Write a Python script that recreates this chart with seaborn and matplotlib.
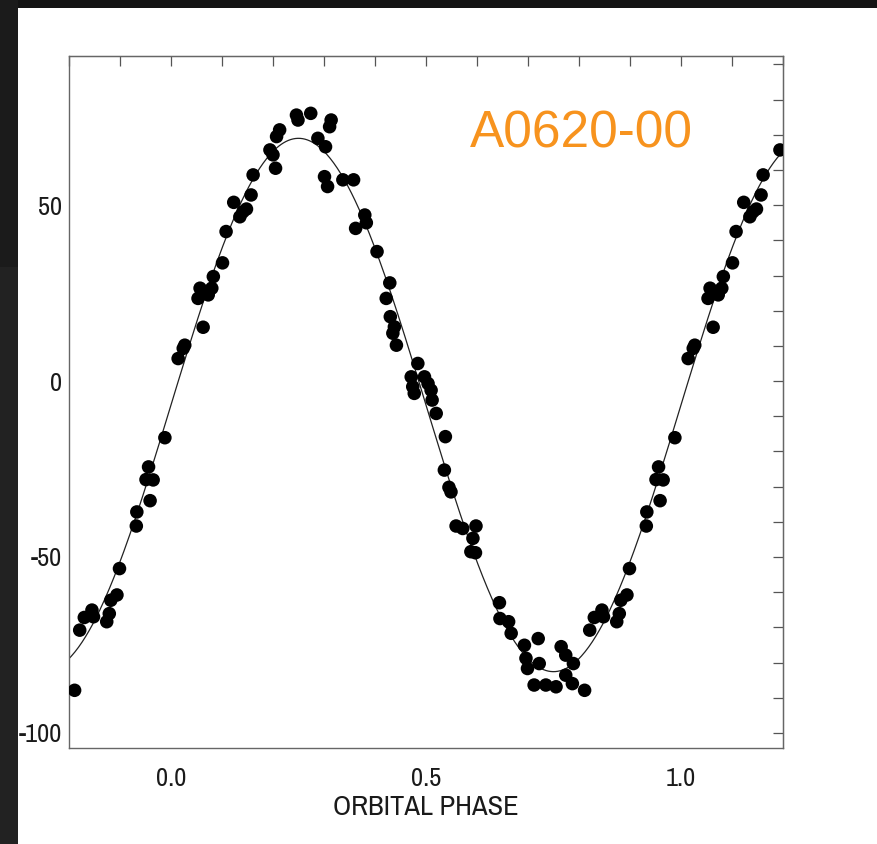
import numpy as np
import pandas as pd
import matplotlib
matplotlib.use("Agg")
import matplotlib.pyplot as plt
import seaborn as sns
from matplotlib.ticker import MultipleLocator
from matplotlib.patches import Rectangle
from matplotlib import font_manager

# ---------------- data ----------------
phase = [0.014, 0.024, 0.027, 0.053, 0.057, 0.063, 0.073, 0.080, 0.083, 0.101,
         0.108, 0.123, 0.135, 0.141, 0.148, 0.157, 0.161, 0.194, 0.200,
         0.205, 0.207, 0.213, 0.246, 0.249, 0.274, 0.288, 0.301, 0.303, 0.307,
         0.311, 0.314, 0.337, 0.358, 0.362, 0.380, 0.383, 0.404, 0.422, 0.429,
         0.430, 0.435, 0.438, 0.442, 0.471, 0.474, 0.477, 0.484, 0.497, 0.504,
         0.510, 0.512, 0.520, 0.536, 0.538, 0.545, 0.549, 0.559, 0.572, 0.588,
         0.592, 0.597, 0.598, 0.644, 0.645, 0.662, 0.667, 0.693, 0.696, 0.699,
         0.712, 0.720, 0.722, 0.735, 0.755, 0.765, 0.774, 0.774, 0.787, 0.789,
         0.811, 0.821, 0.830, 0.845, 0.848, 0.874, 0.879, 0.882, 0.894, 0.899,
         0.932, 0.933, 0.959, 0.951, 0.965, 0.956, 0.988]
velocity = [6.4, 9.3, 10.2, 23.5, 26.4, 15.3, 24.5, 26.4, 29.7, 33.6,
            42.5, 50.8, 46.7, 48.1, 48.9, 52.9, 58.6, 65.7, 64.3,
            60.5, 69.5, 71.4, 75.6, 74.2, 76.1, 69.0, 58.1, 66.6, 55.3,
            72.3, 74.2, 57.2, 57.2, 43.4, 47.2, 45.0, 36.8, 23.5, 27.9,
            18.3, 13.6, 15.4, 10.2, 1.2, -1.6, -3.5, 5.0, 1.2, -0.7,
            -2.6, -5.4, -9.2, -25.3, -15.8, -30.2, -31.5, -41.2, -41.9, -48.5,
            -44.7, -48.8, -41.2, -63.0, -67.5, -68.4, -71.7, -75.1, -78.8, -81.7,
            -86.4, -73.2, -80.3, -86.4, -86.9, -75.5, -77.9, -83.6, -86.0, -80.3,
            -87.9, -70.8, -67.2, -65.1, -67.0, -68.4, -66.1, -62.3, -60.8, -53.3,
            -41.2, -37.2, -34.0, -28.0, -28.1, -24.4, -16.1]

# fitted sine curve parameters
K_AMPLITUDE = 75.8
GAMMA = -6.8

x_ticks = [0.0, 0.5, 1.0]
x_ticklabels = ["0.0", "0.5", "1.0"]
y_ticks = [-100, -50, 0, 50]
y_ticklabels = ["-100", "-50", "0", "50"]
title_text = "A0620-00"
x_label = "ORBITAL PHASE"

# ---------------- build tables ----------------
df = pd.DataFrame({"phase": phase, "velocity": velocity})
ext = pd.concat([
    df,
    df[df.phase >= 0.8].assign(phase=lambda d: d.phase - 1.0),
    df[df.phase < 0.2].assign(phase=lambda d: d.phase + 1.0),
], ignore_index=True)

grid = np.linspace(-0.2, 1.2, 600)
curve = pd.DataFrame({"phase": grid,
                      "velocity": GAMMA + K_AMPLITUDE * np.sin(2 * np.pi * grid)})

# ---------------- style / fonts ----------------
sns.set_style("white")
names = {f.name for f in font_manager.fontManager.ttflist}
narrow_family, narrow_stretch = "DejaVu Sans", "condensed"
for nm in ["Nimbus Sans Narrow", "Liberation Sans Narrow", "Arial Narrow",
           "Archivo Narrow", "Roboto Condensed"]:
    if nm in names:
        narrow_family, narrow_stretch = nm, "normal"
        break
plt.rcParams["font.family"] = [narrow_family, "DejaVu Sans"]
plt.rcParams["font.stretch"] = narrow_stretch

W, H = 878, 844
fig = plt.figure(figsize=(W / 100, H / 100), dpi=100)
fig.patch.set_facecolor("white")

L, R, T, B = 69, 783, 56, 748
ax = fig.add_axes([L / W, 1 - B / H, (R - L) / W, (B - T) / H])
ax.set_facecolor("white")

sns.lineplot(data=curve, x="phase", y="velocity", ax=ax, color="#222222",
             linewidth=0.9, zorder=2)
sns.scatterplot(data=ext, x="phase", y="velocity", ax=ax, color="black",
                s=95, edgecolor="none", linewidth=0, zorder=3)

ax.set_xlim(-0.2, 1.2)
ax.set_ylim(-104.3, 92.4)

frame_col = "#666666"
for sp in ax.spines.values():
    sp.set_color(frame_col)
    sp.set_linewidth(1.0)
    sp.set_visible(True)

ax.set_xticks(x_ticks)
ax.set_xticklabels(x_ticklabels)
ax.set_yticks(y_ticks)
ax.set_yticklabels(y_ticklabels)
ax.xaxis.set_minor_locator(MultipleLocator(0.1))
ax.yaxis.set_minor_locator(MultipleLocator(10))
ax.tick_params(which="both", direction="in", color="#555555", width=0.9,
               labelsize=19, labelcolor="#1a1a1a", top=False, right=False)
ax.tick_params(which="major", length=11)
ax.tick_params(which="minor", length=5)
ax.tick_params(axis="x", which="major", pad=14)
ax.tick_params(axis="y", which="major", pad=5)

# top and right ticks (no labels)
top = ax.secondary_xaxis("top")
top.set_xticks(np.arange(-0.2, 1.21, 0.1))
top.tick_params(direction="in", length=7, color="#555555", width=0.9,
                labeltop=False)
top.spines["top"].set_color(frame_col)
right = ax.secondary_yaxis("right")
right.set_yticks(np.arange(-100, 91, 10))
right.tick_params(direction="in", length=7, color="#555555", width=0.9,
                  labelright=False)
right.spines["right"].set_color(frame_col)

ax.set_xlabel(x_label, fontsize=20.5, color="#1a1a1a", labelpad=3)
ax.set_ylabel("")

fig.text(470 / W, 1 - 148 / H, title_text, color="#F7931E", fontsize=37,
         family=["Liberation Sans", "DejaVu Sans"], stretch="normal",
         ha="left", va="baseline")

# dark slide border
fig.add_artist(Rectangle((0, 1 - 8 / H), 1, 8 / H, transform=fig.transFigure,
                         facecolor="#141414", edgecolor="none", zorder=5))
fig.add_artist(Rectangle((0, 0), 18 / W, 1 - 267 / H, transform=fig.transFigure,
                         facecolor="#222222", edgecolor="none", zorder=5))
fig.add_artist(Rectangle((0, 1 - 267 / H), 18 / W, 267 / H, transform=fig.transFigure,
                         facecolor="#1b1b1b", edgecolor="none", zorder=5))

fig.savefig("out.png", dpi=100, facecolor=fig.get_facecolor())
